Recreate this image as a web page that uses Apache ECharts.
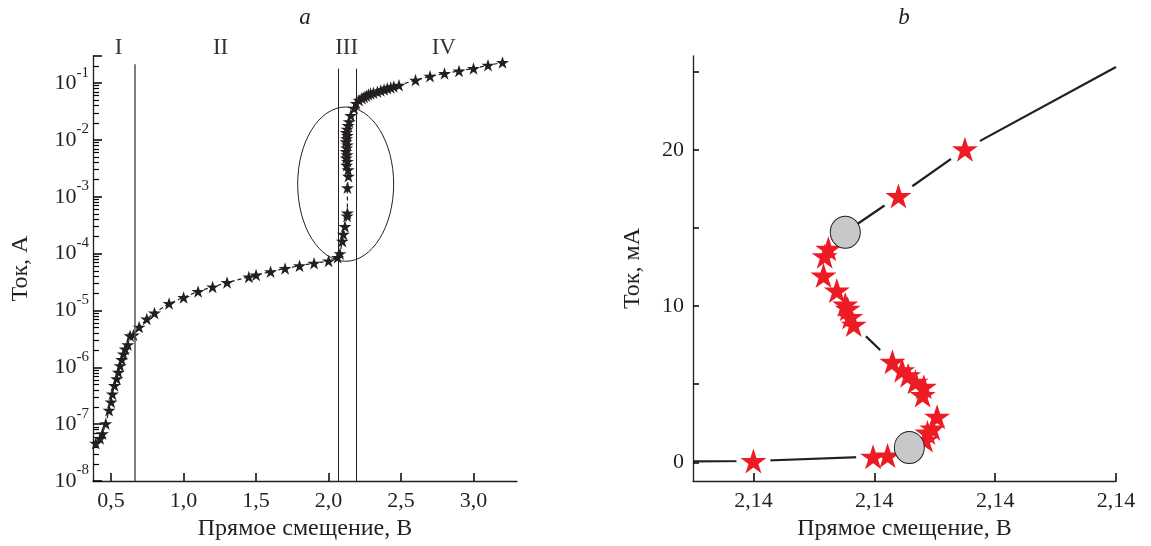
<!DOCTYPE html>
<html><head><meta charset="utf-8">
<script src="https://cdn.jsdelivr.net/npm/echarts@6/dist/echarts.min.js"></script>
<style>html,body{margin:0;padding:0;background:#fff}#c{width:1151px;height:546px}</style>
</head><body><div id="c"></div>
<script>
// ---------- Panel a: I–V on log scale ----------
const leftV = [
  0.394,0.424,0.440,0.463,0.486,0.500,0.509,0.523,0.539,0.550,0.562,0.573,0.585,0.597,0.615,0.631,0.654,0.693,0.746,0.799,
  0.90,1.00,1.10,1.20,1.30,1.45,1.50,1.60,1.70,1.80,1.90,2.00,
  2.062,2.079,2.095,2.102,2.113,2.128,2.130,
  2.130,2.137,2.135,
  2.125,2.130,2.122,2.128,2.120,2.125,2.130,2.120,2.125,2.130,2.122,2.128,2.135,2.142,
  2.153,2.176,2.190,2.210,2.230,2.245,2.260,2.275,2.290,2.310,2.337,2.360,2.383,2.405,2.429,2.450,2.486,
  2.60,2.70,2.80,2.90,3.00,3.10,3.20
];
const leftI = [
  4.6e-8,5.6e-8,6.8e-8,1.02e-7,1.75e-7,2.45e-7,3.4e-7,4.8e-7,6.3e-7,8.2e-7,1.07e-6,1.37e-6,1.72e-6,2.1e-6,2.5e-6,3.6e-6,3.7e-6,5.1e-6,7.1e-6,9.0e-6,
  1.33e-5,1.7e-5,2.16e-5,2.6e-5,3.1e-5,3.9e-5,4.2e-5,4.8e-5,5.5e-5,6.1e-5,6.8e-5,7.4e-5,
  8.6e-5,1.0e-4,1.66e-4,2.2e-4,3.0e-4,4.6e-4,5.2e-4,
  1.44e-3,2.3e-3,3.0e-3,
  3.6e-3,4.2e-3,4.8e-3,5.5e-3,6.3e-3,7.2e-3,8.2e-3,9.3e-3,1.05e-2,1.2e-2,1.35e-2,1.55e-2,1.8e-2,2.1e-2,
  2.7e-2,3.6e-2,4.4e-2,5.0e-2,5.4e-2,5.7e-2,6.0e-2,6.3e-2,6.6e-2,6.8e-2,7.05e-2,7.4e-2,7.76e-2,8.1e-2,8.4e-2,8.7e-2,9.2e-2,
  0.113,0.132,0.148,0.164,0.181,0.206,0.23
];
const leftXTicks = [0.5, 1.0, 1.5, 2.0, 2.5, 3.0];
const regionNames = ['I', 'II', 'III', 'IV'];
const regionV = [0.551, 1.255, 2.125, 2.795];
const regionLabelI = 0.41;
const boundaryV = [0.661, 2.065, 2.194];
const boundaryTopI = [0.215, 0.18, 0.18];
const ellipse = { v: 2.118, i: 1.67e-3, halfV: 0.331, halfDecades: 1.357 };

// ---------- Panel b: S-shaped region, linear scale ----------
const rightStarV = [2.13900,2.13999,2.14011,2.14042,2.14044,2.14048,2.14052,2.14040,2.14041,2.14034,2.14028,2.14023,2.14015,
                    2.13983,2.13980,2.13978,2.13976,2.13969,2.13958,2.13959,2.13962,2.14020,2.14075];
const rightStarI = [0.08,0.36,0.43,1.42,1.90,2.17,2.92,4.30,4.83,5.15,5.57,5.89,6.43,
                    8.81,9.30,9.83,10.10,10.99,11.95,13.19,13.66,17.04,20.04];
const rightCircleV = [2.14029, 2.13976];
const rightCircleI = [0.94, 14.72];
const rightCurveV = [2.1385,2.13900,2.13999,2.14011,2.14029,2.14042,2.14048,2.14052,2.14040,2.14034,2.14023,2.14015,
                     2.13983,2.13978,2.13969,2.13958,2.13959,2.13962,2.13976,2.14020,2.14075,2.142];
const rightCurveI = [0.06,0.08,0.36,0.43,0.94,1.42,2.17,2.92,4.30,5.15,5.89,6.43,
                     8.81,9.83,10.99,11.95,13.19,13.66,14.72,17.04,20.04,25.3];
const rightXTicks = [2.139, 2.140, 2.141, 2.142];
const rightYTicks = [0, 5, 10, 15, 20, 25];
const rightYLabels = [0, 10, 20];

// ---------- styling ----------
const FONT = '"Liberation Serif", "DejaVu Serif", serif';
const INK = '#231f20';
const STAR = 'path://M0,-100L22.45,-30.9L95.1,-30.9L36.3,11.8L58.8,80.9L0,38.2L-58.8,80.9L-36.3,11.8L-95.1,-30.9L-22.45,-30.9Z';
const zip = (a, b) => a.map((v, i) => [v, b[i]]);
const comma = (v, d) => v.toFixed(d).replace('.', ',');
const leftIMin = 1e-8, leftIMax = 0.3;
const tickStyle = () => ({ color: '#000', width: 1.5 });
const labelBase = () => ({ fontSize: 22, fontFamily: FONT, color: INK });
const nameStyle = () => ({ fontSize: 24, fontFamily: FONT, color: INK });
const lineOf = () => ({ show: true, onZero: false, lineStyle: { color: INK, width: 1.3 } });

const chart = echarts.init(document.getElementById('c'));
chart.setOption({
  animation: false,
  backgroundColor: '#fff',
  grid: [
    { left: 93, top: 56, width: 424, height: 427 },
    { left: 693, top: 56, width: 423, height: 427 }
  ],
  graphic: [
    { type: 'text', x: 305, y: 18, style: { text: 'a', font: 'italic 23px ' + FONT, fill: INK, textAlign: 'center', textVerticalAlign: 'middle' } },
    { type: 'text', x: 904, y: 18, style: { text: 'b', font: 'italic 23px ' + FONT, fill: INK, textAlign: 'center', textVerticalAlign: 'middle' } }
  ],
  xAxis: [
    { gridIndex: 0, type: 'value', min: 0.375, max: 3.3, axisLine: lineOf(),
      axisTick: { show: true, inside: true, length: 8, customValues: leftXTicks, lineStyle: tickStyle() },
      axisLabel: Object.assign({ customValues: leftXTicks, formatter: v => comma(v, 1), margin: 9 }, labelBase()),
      splitLine: { show: false },
      name: 'Прямое смещение, В', nameLocation: 'middle', nameGap: 36, nameTextStyle: nameStyle() },
    { gridIndex: 1, type: 'value', min: 2.1385, max: 2.142, axisLine: lineOf(), z: 10,
      axisTick: { show: true, inside: true, length: 8, customValues: rightXTicks, lineStyle: tickStyle() },
      axisLabel: Object.assign({ customValues: rightXTicks, formatter: v => comma(v, 2), margin: 9 }, labelBase()),
      splitLine: { show: false },
      name: 'Прямое смещение, В', nameLocation: 'middle', nameGap: 36, nameTextStyle: nameStyle() }
  ],
  yAxis: [
    { gridIndex: 0, type: 'log', logBase: 10, min: leftIMin, max: leftIMax, axisLine: lineOf(),
      axisTick: { show: true, inside: true, length: 9, lineStyle: tickStyle() },
      minorTick: { show: true, splitNumber: 9, length: 6, lineStyle: { color: '#000', width: 1.2 } },
      axisLabel: {
        margin: 4,
        formatter: v => {
          const n = Math.round(Math.log10(v));
          if (Math.abs(v / Math.pow(10, n) - 1) > 1e-6) return '';
          return '{b|10}{s|' + n + '}';
        },
        rich: {
          b: { fontSize: 22, fontFamily: FONT, color: INK, lineHeight: 36 },
          s: { fontSize: 15, fontFamily: FONT, color: INK, lineHeight: 15, verticalAlign: 'top' }
        }
      },
      splitLine: { show: false },
      name: 'Ток, А', nameLocation: 'middle', nameGap: 60, nameTextStyle: nameStyle() },
    { gridIndex: 1, type: 'value', min: -1.2, max: 26, axisLine: lineOf(),
      axisTick: { show: true, inside: true, length: 6, customValues: rightYTicks, lineStyle: tickStyle() },
      axisLabel: Object.assign({ customValues: rightYLabels, margin: 9 }, labelBase()),
      splitLine: { show: false },
      name: 'Ток, мА', nameLocation: 'middle', nameGap: 48, nameTextStyle: nameStyle() }
  ],
  series: [
    // panel a
    { type: 'line', xAxisIndex: 0, yAxisIndex: 0, data: zip(leftV, leftI), symbol: 'none', silent: true, z: 2,
      lineStyle: { color: INK, width: 1.2, type: [4, 3] } },
    { type: 'scatter', xAxisIndex: 0, yAxisIndex: 0, data: zip(leftV, leftI), symbol: STAR, symbolSize: [13, 12.5],
      itemStyle: { color: INK, opacity: 1 }, silent: true, z: 3,
      markLine: {
        symbol: 'none', silent: true, label: { show: false },
        data: boundaryV.map((v, i) => [
          { coord: [v, leftIMin], lineStyle: { color: i === 0 ? '#555' : INK, width: i === 0 ? 1.5 : 1, type: 'solid' } },
          { coord: [v, boundaryTopI[i]] }
        ])
      } },
    { type: 'custom', xAxisIndex: 0, yAxisIndex: 0, data: [[ellipse.v, ellipse.i]], silent: true, clip: false, z: 4,
      renderItem: (params, api) => {
        const c = api.coord([ellipse.v, ellipse.i]);
        const r = api.coord([ellipse.v + ellipse.halfV, ellipse.i]);
        const t = api.coord([ellipse.v, ellipse.i * Math.pow(10, ellipse.halfDecades)]);
        return { type: 'ellipse', shape: { cx: c[0], cy: c[1], rx: r[0] - c[0], ry: c[1] - t[1] },
                 style: { fill: 'none', stroke: INK, lineWidth: 1 } };
      } },
    { type: 'scatter', xAxisIndex: 0, yAxisIndex: 0, clip: false, silent: true, symbolSize: 1,
      itemStyle: { color: 'rgba(0,0,0,0)' },
      data: regionNames.map((n, i) => ({ name: n, value: [regionV[i], regionLabelI] })),
      label: { show: true, position: 'inside', formatter: '{b}', fontSize: 23, fontFamily: FONT, color: '#000' } },
    // panel b
    { type: 'line', xAxisIndex: 1, yAxisIndex: 1, data: zip(rightCurveV, rightCurveI), symbol: 'none', silent: true, z: 2,
      lineStyle: { color: INK, width: 2.2 } },
    { type: 'scatter', xAxisIndex: 1, yAxisIndex: 1, data: zip(rightStarV, rightStarI), symbol: 'circle', symbolSize: 34,
      itemStyle: { color: '#ffffff', opacity: 1 }, silent: true, z: 3 },
    { type: 'scatter', xAxisIndex: 1, yAxisIndex: 1, data: zip(rightStarV, rightStarI), symbol: STAR, symbolSize: [26, 25],
      itemStyle: { color: '#ed1c24', opacity: 1 }, silent: true, z: 4 },
    { type: 'scatter', xAxisIndex: 1, yAxisIndex: 1, data: zip(rightCircleV, rightCircleI), symbol: 'circle', symbolSize: [30, 32],
      itemStyle: { color: '#c7c8ca', borderColor: INK, borderWidth: 1, opacity: 1 }, silent: true, z: 5 }
  ]
});
</script>
</body></html>
